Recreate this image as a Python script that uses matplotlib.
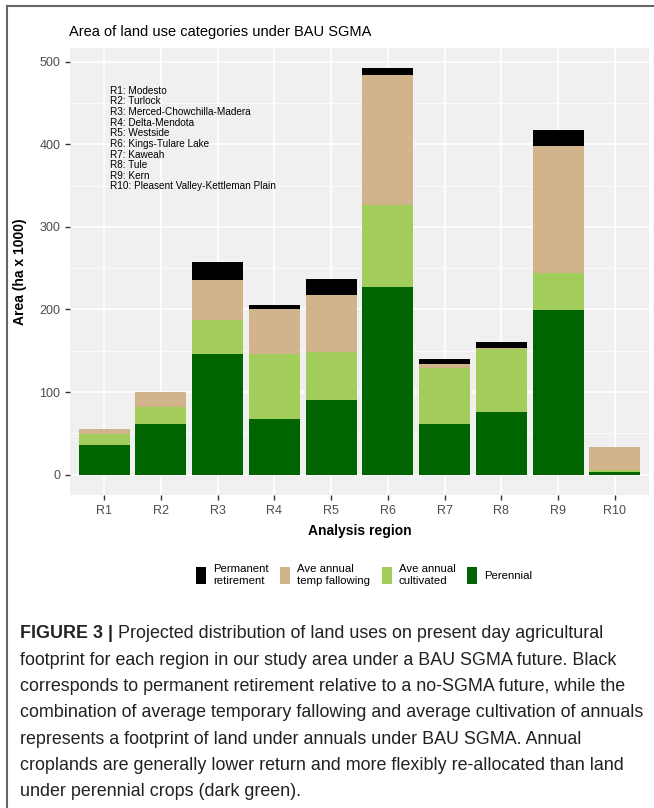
import numpy as np
import matplotlib
matplotlib.use("Agg")
import matplotlib.pyplot as plt
from matplotlib.patches import Patch
from matplotlib.lines import Line2D

plt.rcParams['font.family'] = ['Liberation Sans', 'DejaVu Sans']

# --- Data (ha x 1000) ---
regions = ["R1", "R2", "R3", "R4", "R5", "R6", "R7", "R8", "R9", "R10"]
perennial = [36, 61, 146, 67, 91, 227, 61, 76, 199, 3]
cultivated = [13, 21, 41, 79, 58, 100, 68, 76, 45, 2.5]
fallowing = [6, 18, 49, 55, 68, 157, 5, 1, 154, 27.5]
retirement = [0, 0, 22, 4, 20, 8, 6, 8, 19, 0.5]

region_names = ["R1: Modesto", "R2: Turlock", "R3: Merced-Chowchilla-Madera",
                "R4: Delta-Mendota", "R5: Westside", "R6: Kings-Tulare Lake",
                "R7: Kaweah", "R8: Tule", "R9: Kern",
                "R10: Pleasent Valley-Kettleman Plain"]

series = [("Perennial", perennial, "#006400"),
          ("Ave annual\ncultivated", cultivated, "#A2CD5A"),
          ("Ave annual\ntemp fallowing", fallowing, "#D2B48C"),
          ("Permanent\nretirement", retirement, "#000000")]

caption_lines = [
    "Projected distribution of land uses on present day agricultural",
    "footprint for each region in our study area under a BAU SGMA future. Black",
    "corresponds to permanent retirement relative to a no-SGMA future, while the",
    "combination of average temporary fallowing and average cultivation of annuals",
    "represents a footprint of land under annuals under BAU SGMA. Annual",
    "croplands are generally lower return and more flexibly re-allocated than land",
    "under perennial crops (dark green).",
]

W, H = 654, 808
fig = plt.figure(figsize=(W / 100, H / 100), dpi=100)
fig.patch.set_facecolor("white")

ax = fig.add_axes([70 / W, 1 - 495 / H, 579 / W, 447 / H])
ax.set_facecolor("#F0F0F0")

x = np.arange(1, len(regions) + 1)
bottom = np.zeros(len(regions))
for label, vals, col in series:
    ax.bar(x, vals, width=0.9, bottom=bottom, color=col, zorder=3)
    bottom += np.array(vals)

top = bottom.max()
ax.set_xlim(0.4, len(regions) + 0.6)
ax.set_ylim(-0.05 * top, top * 1.05)
ax.set_xticks(x)
ax.set_xticklabels(regions)
ax.set_yticks(np.arange(0, 501, 100))
ax.set_yticks(np.arange(50, 501, 100), minor=True)
ax.grid(True, which="major", color="white", linewidth=1.2, zorder=0)
ax.grid(True, which="minor", axis="y", color="white", linewidth=0.5, zorder=0)
ax.tick_params(which="major", length=3.5, width=1, color="#333333",
               labelsize=9, labelcolor="#4D4D4D", pad=3.5)
ax.tick_params(which="minor", length=0)
for s in ax.spines.values():
    s.set_visible(False)

ax.set_xlabel("Analysis region", fontsize=10, fontweight="bold", labelpad=5)
ax.set_ylabel("Area (ha x 1000)", fontsize=10, fontweight="bold", labelpad=9)

ax.text(1.1, 471, "\n".join(region_names), fontsize=7.2, va="top", ha="left",
        linespacing=1.08, zorder=4)

fig.text(69 / W, 1 - 32 / H, "Area of land use categories under BAU SGMA",
         fontsize=10.5, va="center", ha="left")

handles = [Patch(facecolor=c, label=l) for l, v, c in series[::-1]]
fig.legend(handles=handles, loc="center", bbox_to_anchor=(364 / W, 1 - 575 / H),
           ncol=4, frameon=False, fontsize=8.2, handlelength=0.9, handleheight=2.0,
           handletextpad=0.6, columnspacing=1.0, labelspacing=0.2)

# frame around the figure area
fig.add_artist(Line2D([7 / W, 7 / W], [0, 1 - 6 / H], color="#666666", lw=1.5))
fig.add_artist(Line2D([7 / W, 1], [1 - 6 / H, 1 - 6 / H], color="#666666", lw=1.5))

cap_font = ['Liberation Sans Narrow', 'Liberation Sans']
renderer = fig.canvas.get_renderer()
bold = fig.text(20 / W, 1 - 634 / H, "FIGURE 3 |", fontsize=12.9, fontweight="bold",
                family=cap_font, va="center", ha="left", color="#222222")
bb = bold.get_window_extent(renderer)
for i, line in enumerate(caption_lines):
    xpos = (bb.x1 + 5) / W if i == 0 else 20 / W
    fig.text(xpos, 1 - (634 + i * 26.3) / H, line, fontsize=12.9, family=cap_font,
             va="center", ha="left", color="#222222")

fig.savefig("out.png", dpi=100)
